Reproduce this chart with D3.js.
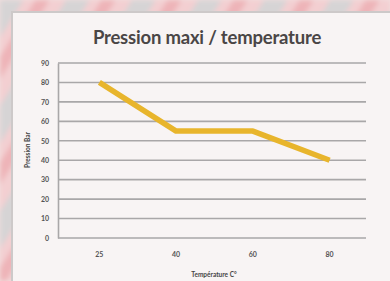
<!DOCTYPE html>
<html lang="fr">
<head>
<meta charset="utf-8">
<title>Pression maxi / temperature</title>
<script src="https://d3js.org/d3.v7.min.js"></script>
<style>
  body { margin: 0; background: #f2dede; overflow: hidden; }
  svg { display: block; }
</style>
</head>
<body>
<div class="chart"></div>
<script>
// data
const temperatures = ["25", "40", "60", "80"];
const pressions = [80, 55, 55, 40];
const yTicks = [0, 10, 20, 30, 40, 50, 60, 70, 80, 90];

const width = 390, height = 281;
const margin = {left: 58, right: 24, top: 63, bottom: 43};

const svg = d3.select(".chart").append("svg")
    .attr("width", width)
    .attr("height", height);

const defs = svg.append("defs");
const pat = defs.append("pattern")
    .attr("id", "stripes")
    .attr("patternUnits", "userSpaceOnUse")
    .attr("width", 56).attr("height", 56)
    .attr("patternTransform", "rotate(32)");
pat.append("rect").attr("width", 56).attr("height", 56).attr("fill", "#f3cfd1");
pat.append("rect").attr("x", 0).attr("width", 20).attr("height", 56).attr("fill", "#d6d4d5");
pat.append("rect").attr("x", 30).attr("width", 12).attr("height", 56).attr("fill", "#eeb4b8");
defs.append("filter").attr("id", "blur")
  .append("feGaussianBlur").attr("stdDeviation", 2.5);

// slide background
svg.append("rect")
    .attr("width", width).attr("height", height)
    .attr("fill", "url(#stripes)")
    .attr("filter", "url(#blur)");

// chart panel
svg.append("rect")
    .attr("x", 12).attr("y", 12)
    .attr("width", width).attr("height", height)
    .attr("fill", "#f8f4f4")
    .attr("stroke", "#cdc9c9")
    .attr("stroke-width", 2);

const x = d3.scaleBand()
    .domain(temperatures)
    .range([margin.left + 3, width - margin.right + 2]);

const y = d3.scaleLinear()
    .domain([0, 90])
    .range([height - margin.bottom, margin.top]);

// gridlines
svg.append("g")
  .selectAll("line")
  .data(yTicks)
  .join("line")
    .attr("x1", margin.left)
    .attr("x2", width - margin.right)
    .attr("y1", d => y(d))
    .attr("y2", d => y(d))
    .attr("stroke", "#a9a7a8")
    .attr("stroke-width", 1.6);

// y axis
const yAxis = svg.append("g")
    .attr("transform", `translate(${margin.left},0)`)
    .call(d3.axisLeft(y).tickValues(yTicks).tickSize(0).tickPadding(9));
yAxis.select(".domain").attr("stroke", "#a9a7a8").attr("stroke-width", 1.6);
yAxis.selectAll("text")
    .attr("fill", "#555")
    .style("font-family", "Lato, sans-serif")
    .style("font-size", "7px")
    .style("font-weight", "bold");

// x axis
const xAxis = svg.append("g")
    .attr("transform", `translate(0,${height - margin.bottom})`)
    .call(d3.axisBottom(x).tickSize(0).tickPadding(14));
xAxis.select(".domain").remove();
xAxis.selectAll("text")
    .attr("fill", "#555")
    .style("font-family", "Lato, sans-serif")
    .style("font-size", "7px")
    .style("font-weight", "bold");

// line
const line = d3.line()
    .x((d, i) => x(temperatures[i]) + x.bandwidth() / 2)
    .y(d => y(d));

svg.append("path")
    .datum(pressions)
    .attr("d", line)
    .attr("fill", "none")
    .attr("stroke", "#e8b52c")
    .attr("stroke-width", 5.5)
    .attr("stroke-linejoin", "round");

// title
svg.append("text")
    .attr("x", 207)
    .attr("y", 44)
    .attr("text-anchor", "middle")
    .attr("fill", "#4a4646")
    .style("font-family", "Lato, sans-serif")
    .style("font-weight", "bold")
    .style("font-size", "18.5px")
    .style("letter-spacing", "-0.2px")
    .text("Pression maxi / temperature");

// axis titles
svg.append("text")
    .attr("x", 214)
    .attr("y", 277)
    .attr("text-anchor", "middle")
    .attr("fill", "#444")
    .style("font-family", "Lato, sans-serif")
    .style("font-weight", "bold")
    .style("font-size", "6.5px")
    .text("Température C°");

svg.append("text")
    .attr("transform", "translate(30,150) rotate(-90)")
    .attr("text-anchor", "middle")
    .attr("fill", "#444")
    .style("font-family", "Lato, sans-serif")
    .style("font-weight", "bold")
    .style("font-size", "6.5px")
    .text("Pression Bar");
</script>
</body>
</html>
